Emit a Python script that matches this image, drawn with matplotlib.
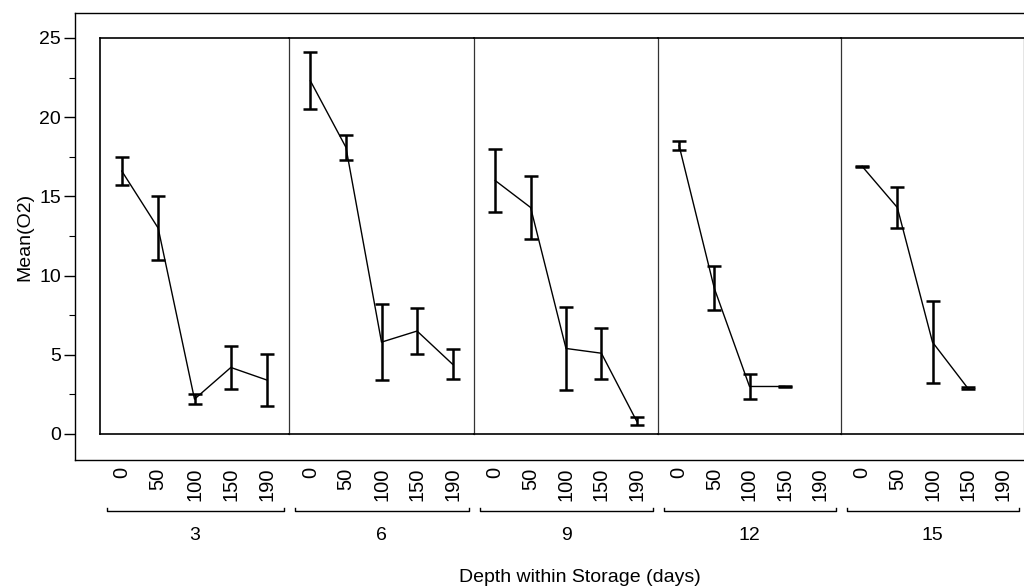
import matplotlib.pyplot as plt
import numpy as np

plt.rcParams['font.family'] = ['Liberation Sans', 'DejaVu Sans']

days = ['3', '6', '9', '12', '15']
depths = ['0', '50', '100', '150', '190']

mean_o2 = [
    [16.6, 13.0, 2.2, 4.2, 3.4],
    [22.3, 18.1, 5.8, 6.5, 4.4],
    [16.0, 14.3, 5.4, 5.1, 0.8],
    [18.2, 9.2, 3.0, 3.0, np.nan],
    [16.9, 14.3, 5.8, 2.9, np.nan],
]
err_o2 = [
    [0.9, 2.0, 0.3, 1.35, 1.65],
    [1.8, 0.8, 2.4, 1.45, 0.95],
    [2.0, 2.0, 2.6, 1.6, 0.25],
    [0.3, 1.4, 0.8, 0.05, np.nan],
    [0.05, 1.3, 2.6, 0.05, np.nan],
]

W, H = 1024, 588
fig = plt.figure(figsize=(W / 100, H / 100), dpi=100)

# outer frame holding the y axis
px_per_unit = (434 - 38) / 25
ylo = -(460 - 434) / px_per_unit
yhi = 25 + (38 - 13) / px_per_unit
outer = fig.add_axes([75 / W, 1 - 460 / H, (W - 75) / W, (460 - 13) / H])
outer.set_ylim(ylo, yhi)
outer.set_xlim(0, 1)
outer.set_xticks([])
outer.set_yticks([0, 5, 10, 15, 20, 25])
outer.set_yticks(np.arange(2.5, 25, 5), minor=True)
outer.tick_params(axis='y', which='major', length=8, width=1, labelsize=14, pad=2)
outer.tick_params(axis='y', which='minor', length=4, width=0.8)
outer.spines['right'].set_visible(False)
for s in ['left', 'bottom', 'top']:
    outer.spines[s].set_linewidth(1.0)
outer.set_ylabel('Mean(O2)', fontsize=14, labelpad=4)

edges = [100, 289, 474, 658, 841, 1024]
for i, d in enumerate(days):
    ax = fig.add_axes([edges[i] / W, 1 - 434 / H,
                       (edges[i + 1] - edges[i]) / W, (434 - 38) / H])
    x = np.arange(len(depths))
    ax.errorbar(x, mean_o2[i], yerr=err_o2[i], color='black', lw=1.0,
                elinewidth=1.8, capsize=5, capthick=1.8)
    ax.set_xlim(-0.6, 4.6)
    ax.set_ylim(0, 25)
    ax.set_yticks([])
    ax.set_xticks(x)
    ax.set_xticklabels(depths, rotation=90, fontsize=14.5, va='top')
    ax.tick_params(axis='x', length=0, pad=24)
    for s in ax.spines.values():
        s.set_linewidth(1.2)
    if i > 0:
        ax.spines['left'].set_color('#333333')
        ax.spines['left'].set_linewidth(0.9)
    if i < len(days) - 1:
        ax.spines['right'].set_visible(False)
    else:
        ax.spines['right'].set_color('#333333')
        ax.spines['right'].set_linewidth(0.9)
    # group bracket
    yb = -(511 - 434) / 396
    trans = ax.get_xaxis_transform()
    ax.plot([-0.42, -0.42, 4.45, 4.45], [yb + 0.008, yb, yb, yb + 0.008],
            color='black', lw=1.0, transform=trans, clip_on=False)
    ax.text(2, -(536 - 434) / 396, d, transform=trans, ha='center', va='center',
            fontsize=14)

fig.text(580 / W, 1 - 578 / H, 'Depth within Storage (days)', ha='center',
         va='center', fontsize=14)

fig.savefig('out.png', dpi=100)
